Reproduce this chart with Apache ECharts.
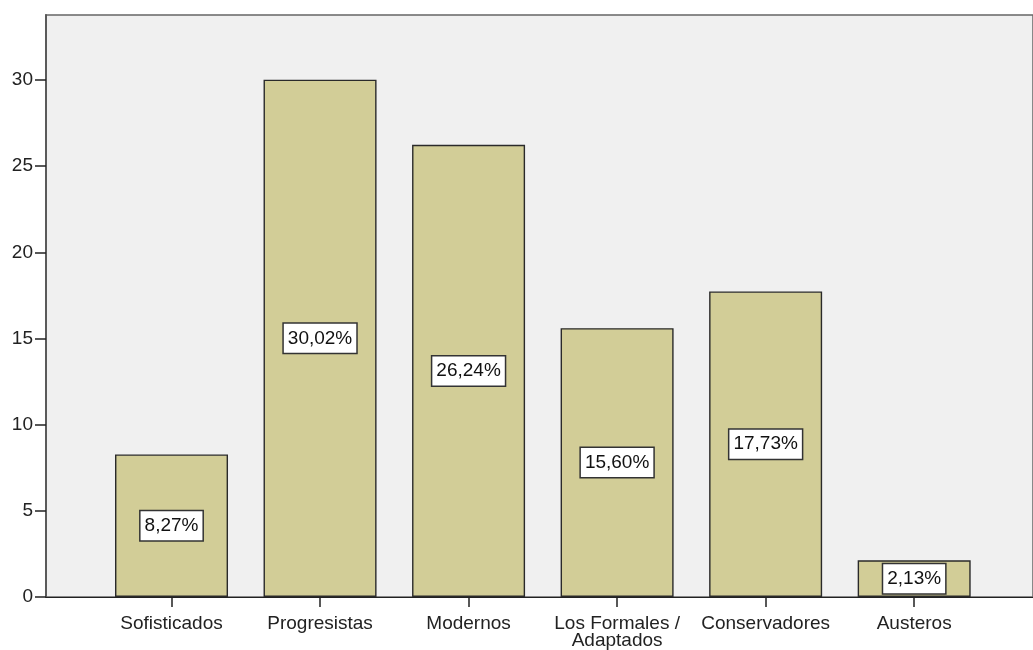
<!DOCTYPE html>
<html>
<head>
<meta charset="utf-8">
<script src="https://cdn.jsdelivr.net/npm/echarts@6/dist/echarts.min.js"></script>
<style>
html,body{margin:0;padding:0;background:#fff;}
#c{width:1033px;height:650px;}
</style>
</head>
<body>
<div id="c"></div>
<script>
const categories = ['Sofisticados', 'Progresistas', 'Modernos', 'Los Formales / Adaptados', 'Conservadores', 'Austeros'];
const values = [8.27, 30.02, 26.24, 15.60, 17.73, 2.13];
const yTicks = [0, 5, 10, 15, 20, 25, 30];

const font = '"Liberation Sans", Arial, sans-serif';
const chart = echarts.init(document.getElementById('c'));
chart.setOption({
  animation: false,
  backgroundColor: '#ffffff',
  grid: {
    left: 46, top: 15, right: -10, bottom: 51.5,
    show: true, backgroundColor: '#f0f0f0', borderColor: '#666', borderWidth: 1.5
  },
  xAxis: {
    type: 'value',
    min: -0.845, max: 5.8,
    splitLine: { show: false },
    axisLine: { show: true, onZero: false, lineStyle: { color: '#222', width: 1.2 } },
    axisTick: { show: true, customValues: categories.map((c, i) => i), length: 10, lineStyle: { color: '#222', width: 1.5 } },
    axisLabel: {
      customValues: categories.map((c, i) => i),
      formatter: v => categories[v].replace(' / ', ' /\n'),
      color: '#222', fontSize: 19, fontFamily: font, margin: 18, lineHeight: 17,
      verticalAlign: 'top'
    }
  },
  yAxis: {
    type: 'value',
    min: 0, max: 33.77,
    splitLine: { show: false },
    axisLine: { show: true, onZero: false, lineStyle: { color: '#555', width: 1.8 } },
    axisTick: { show: true, customValues: yTicks, length: 11, lineStyle: { color: '#222', width: 1.5 } },
    axisLabel: { customValues: yTicks, color: '#222', fontSize: 19, fontFamily: font, margin: 13 }
  },
  series: [{
    type: 'bar',
    data: categories.map((c, i) => [i, values[i]]),
    barWidth: 113,
    itemStyle: { color: '#d2cd97', borderColor: '#2a2a2a', borderWidth: 1.4 },
    label: {
      show: true, position: 'inside',
      formatter: p => p.value[1].toFixed(2).replace('.', ',') + '%',
      color: '#111', fontSize: 19, fontFamily: font,
      backgroundColor: '#ffffff', borderColor: '#333', borderWidth: 1.5,
      padding: [5, 4, 4, 4], lineHeight: 20
    }
  }]
});
</script>
</body>
</html>
